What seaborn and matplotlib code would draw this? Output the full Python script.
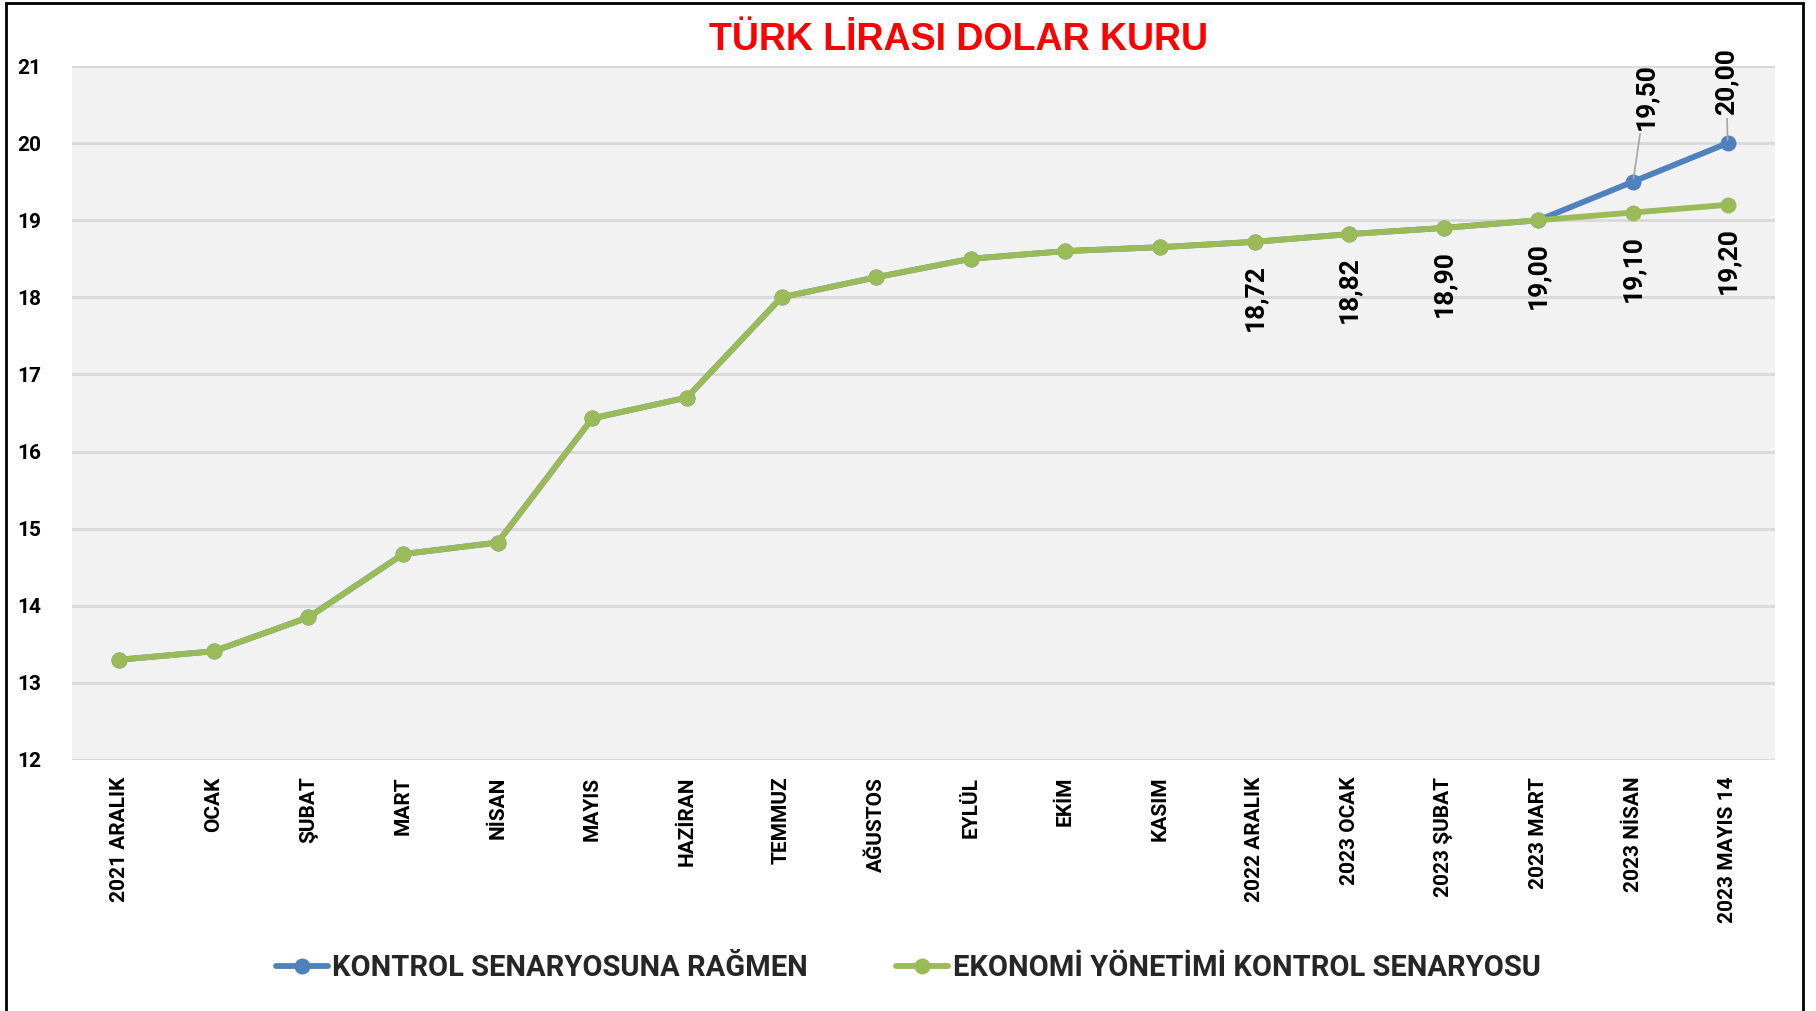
import matplotlib
matplotlib.use("Agg")
import matplotlib.pyplot as plt
import seaborn as sns
import pandas as pd
from matplotlib.patches import Rectangle
from matplotlib.lines import Line2D

categories = ["2021 ARALIK", "OCAK", "ŞUBAT", "MART", "NİSAN", "MAYIS", "HAZİRAN",
              "TEMMUZ", "AĞUSTOS", "EYLÜL", "EKİM", "KASIM", "2022 ARALIK",
              "2023 OCAK", "2023 ŞUBAT", "2023 MART", "2023 NİSAN", "2023 MAYIS 14"]
green_values = [13.30, 13.41, 13.85, 14.67, 14.82, 16.43, 16.70, 18.00, 18.26, 18.50,
                18.60, 18.65, 18.72, 18.82, 18.90, 19.00, 19.10, 19.20]
blue_values = [13.30, 13.41, 13.85, 14.67, 14.82, 16.43, 16.70, 18.00, 18.26, 18.50,
               18.60, 18.65, 18.72, 18.82, 18.90, 19.00, 19.50, 20.00]
series_names = ["KONTROL SENARYOSUNA RAĞMEN", "EKONOMİ YÖNETİMİ KONTROL SENARYOSU"]
title = "TÜRK LİRASI DOLAR KURU"
y_ticks = [12, 13, 14, 15, 16, 17, 18, 19, 20, 21]
green_label_idx = [12, 13, 14, 15, 16, 17]
blue_label_idx = [16, 17]

BLUE = "#4F81BD"
GREEN = "#9BBB59"

sns.set_theme(style="white")
plt.rcParams["font.family"] = ["Roboto", "DejaVu Sans"]

df = pd.DataFrame({
    "x": list(range(len(categories))) * 2,
    "value": blue_values + green_values,
    "series": [series_names[0]] * len(categories) + [series_names[1]] * len(categories),
})

fig = plt.figure(figsize=(18.16, 10.11), dpi=100)
ax = fig.add_axes([0.0396, 0.2483, 0.9378, 0.6864])
ax.set_facecolor("#F2F2F2")

sns.lineplot(data=df, x="x", y="value", hue="series", palette=[BLUE, GREEN],
             hue_order=series_names, marker="o", markersize=11.5, markeredgewidth=0,
             linewidth=4.2, ax=ax, legend=False, sort=False)

ax.set_xlim(-0.5, len(categories) - 0.5)
ax.set_ylim(12, 21)
ax.set_yticks(y_ticks)
ax.set_yticklabels([str(t) for t in y_ticks], fontsize=15, fontweight="bold", color="black")
ax.set_xticks(range(len(categories)))
ax.set_xticklabels(categories, rotation=90, fontsize=15, fontweight="bold", color="black",
                   va="top", ha="center")
ax.tick_params(axis="both", length=0)
ax.tick_params(axis="x", pad=12)
ax.tick_params(axis="y", pad=22)
ax.set_xlabel("")
ax.set_ylabel("")
ax.yaxis.grid(True, color="#D9D9D9", linewidth=2)
ax.set_axisbelow(True)
for s in ax.spines.values():
    s.set_visible(False)

def fmt(v):
    return f"{v:.2f}".replace(".", ",")

for i in green_label_idx:
    ax.annotate(fmt(green_values[i]), (i, green_values[i]), xytext=(0, -16),
                textcoords="offset points", rotation=90, ha="center", va="top",
                fontsize=19, fontweight="bold", color="black")

blue_offsets = {16: (9, 37), 17: (-1, 20)}
for i in blue_label_idx:
    ax.annotate(fmt(blue_values[i]), (i, blue_values[i]), xytext=blue_offsets[i],
                textcoords="offset points", rotation=90, ha="center", va="bottom",
                fontsize=19, fontweight="bold", color="black",
                arrowprops=dict(arrowstyle="-", color="#A6A6A6", lw=1.2,
                                shrinkA=0, shrinkB=2))

fig.text(0.528, 0.96, title, ha="center", va="center", color="#FF0000",
         fontsize=27, fontweight="bold", family=["Liberation Sans", "DejaVu Sans"])

handles = [Line2D([0], [0], color=BLUE, lw=4.2, marker="o", markersize=11.5, markeredgewidth=0),
           Line2D([0], [0], color=GREEN, lw=4.2, marker="o", markersize=11.5, markeredgewidth=0)]
fig.legend(handles, series_names, loc="center", bbox_to_anchor=(0.5, 0.0425), ncol=2,
           frameon=False, prop={"size": 21, "weight": "bold"}, handlelength=1.8,
           handletextpad=0.15, columnspacing=3.0)

fig.patches.append(Rectangle((0.0035, -0.05), 0.9895, 1.047, transform=fig.transFigure,
                             fill=False, edgecolor="black", linewidth=2))

fig.savefig("out.png", dpi=100, facecolor="white")
